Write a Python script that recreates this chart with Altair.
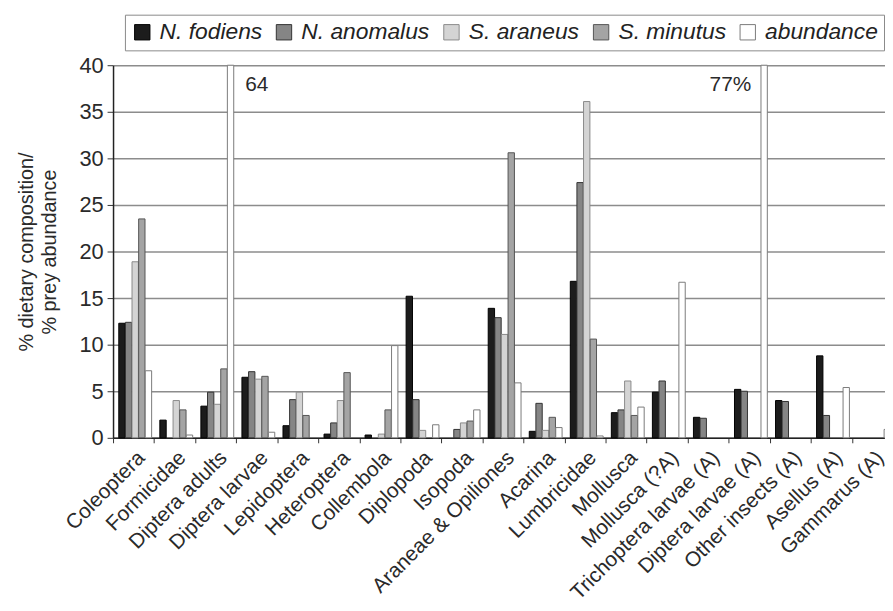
import altair as alt
import pandas as pd

categories = ["Coleoptera", "Formicidae", "Diptera adults", "Diptera larvae", "Lepidoptera",
              "Heteroptera", "Collembola", "Diplopoda", "Isopoda", "Araneae & Opiliones",
              "Acarina", "Lumbricidae", "Mollusca", "Mollusca (?A)", "Trichoptera larvae (A)",
              "Diptera larvae (A)", "Other insects (A)", "Asellus (A)", "Gammarus (A)"]
series = ["N. fodiens", "N. anomalus", "S. araneus", "S. minutus", "abundance"]

n_fodiens  = [12.3, 1.9, 3.4, 6.5, 1.3, 0.4, 0.3, 15.2, 0.0, 13.9, 0.7, 16.8, 2.7, 4.9, 2.2, 5.2, 4.0, 8.8, 0.0]
n_anomalus = [12.4, 0.0, 4.9, 7.1, 4.1, 1.6, 0.0, 4.1, 0.9, 12.9, 3.7, 27.4, 3.0, 6.1, 2.1, 5.0, 3.9, 2.4, 0.0]
s_araneus  = [18.9, 4.0, 3.6, 6.3, 4.9, 4.0, 0.4, 0.8, 1.6, 11.1, 0.8, 36.1, 6.1, 0.0, 0.0, 0.0, 0.0, 0.0, 0.0]
s_minutus  = [23.5, 3.0, 7.4, 6.6, 2.4, 7.0, 3.0, 0.0, 1.8, 30.6, 2.2, 10.6, 2.4, 0.0, 0.0, 0.0, 0.0, 0.0, 0.0]
abundance  = [7.2, 0.3, 64.0, 0.6, 0.0, 0.0, 9.9, 1.4, 3.0, 5.9, 1.1, 0.2, 3.3, 16.7, 0.0, 77.0, 0.0, 5.4, 0.9]

fills = ["#1c1c1c", "#858585", "#d4d4d4", "#a4a4a4", "#ffffff"]
strokes = ["#000000", "#333333", "#8a8a8a", "#555555", "#7a7a7a"]

rows = []
for s, vals in zip(series, [n_fodiens, n_anomalus, s_araneus, s_minutus, abundance]):
    for c, v in zip(categories, vals):
        rows.append({"cat": c, "series": s, "value": v})
df = pd.DataFrame(rows)

notes_left = pd.DataFrame({"cat": ["Diptera larvae"], "value": [37.9], "label": ["64"]})
notes_right = pd.DataFrame({"cat": ["Diptera larvae (A)"], "value": [37.9], "label": ["77%"]})

xscale = alt.Scale(domain=categories, range=[0, 787], paddingInner=0, paddingOuter=0)
yscale = alt.Scale(domain=[0, 40], clamp=True, nice=False)

bars = alt.Chart(df).transform_filter("datum.value > 0").mark_bar(strokeWidth=1).encode(
    x=alt.X("cat:N", sort=categories, scale=xscale,
            axis=alt.Axis(title=None, labelAngle=-45, labelFontSize=21, labelColor="#2a2a2a",
                          labelLimit=0, tickBand="extent", tickSize=5, tickColor="#333",
                          domainColor="#222", domainWidth=1.5, labelPadding=4)),
    xOffset=alt.XOffset("series:N", sort=series,
                        scale=alt.Scale(domain=series, paddingInner=0.04, paddingOuter=0.62, align=0.7)),
    y=alt.Y("value:Q", scale=yscale,
            axis=alt.Axis(title=["% dietary composition/", "% prey abundance"], values=[0, 5, 10, 15, 20, 25, 30, 35, 40],
                          titleFontSize=20, titleFontWeight="normal", titleColor="#2a2a2a",
                          titleLineHeight=23, titlePadding=20,
                          labelFontSize=22, labelColor="#2a2a2a", tickSize=6, tickColor="#333",
                          domainColor="#222", domainWidth=1.5, labelPadding=4,
                          grid=True, gridColor="#8c8c8c", gridWidth=1.5)),
    fill=alt.Fill("series:N", sort=series, scale=alt.Scale(domain=series, range=fills),
                  legend=alt.Legend(title=None, orient="none", legendX=12, legendY=-51,
                                    direction="horizontal", labelFontSize=23, labelFontStyle="italic",
                                    labelColor="#222", symbolType="square", symbolSize=240,
                                    symbolStrokeColor="#222", symbolStrokeWidth=1,
                                    columnPadding=10, labelOffset=6, padding=6,
                                    strokeColor="#8a8a8a", fillColor="#ffffff")),
    stroke=alt.Stroke("series:N", sort=series, scale=alt.Scale(domain=series, range=strokes), legend=None),
)

t1 = alt.Chart(notes_left).mark_text(fontSize=21, color="#2a2a2a", align="center").encode(
    x=alt.X("cat:N", sort=categories, scale=xscale),
    y=alt.Y("value:Q", scale=yscale),
    text="label:N",
)
t2 = alt.Chart(notes_right).mark_text(fontSize=21, color="#2a2a2a", align="right", dx=2).encode(
    x=alt.X("cat:N", sort=categories, scale=xscale),
    y=alt.Y("value:Q", scale=yscale),
    text="label:N",
)

chart = alt.layer(bars, t1, t2).properties(
    width=779, height=376,
    autosize=alt.AutoSizeParams(type="none"),
    padding={"left": 106, "top": 55, "right": 0, "bottom": 170},
).configure(font="Liberation Sans").configure_view(stroke=None)

chart.save("out.html", embed_options={"renderer": "svg", "actions": False})
